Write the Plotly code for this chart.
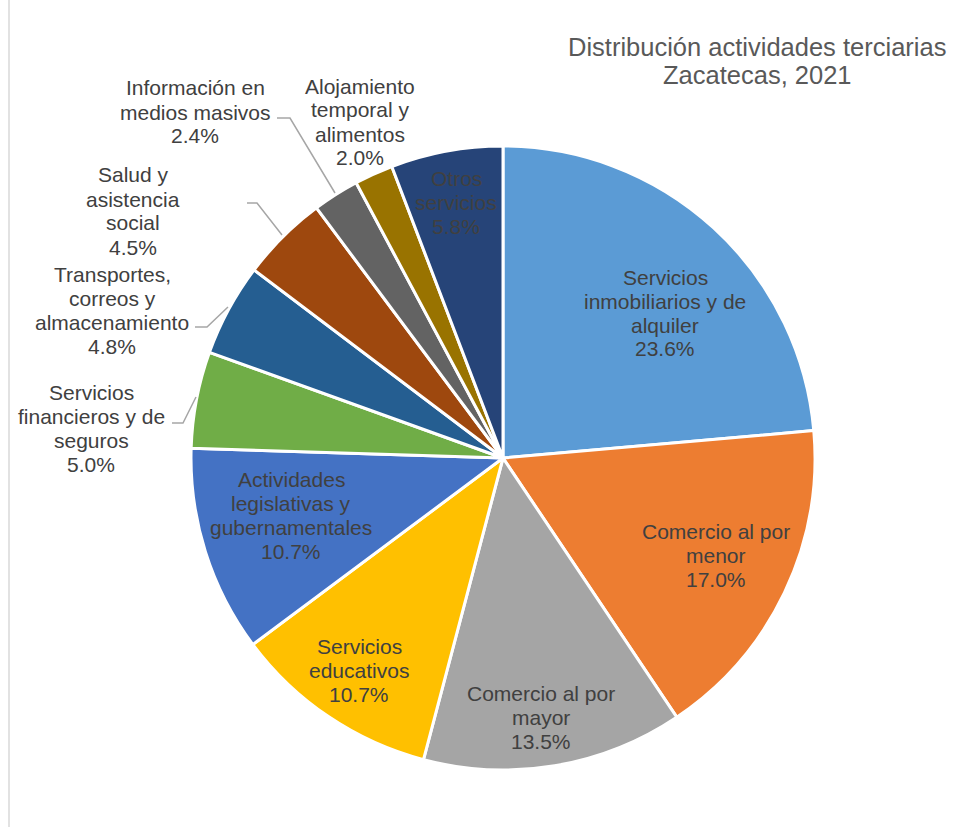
import plotly.graph_objects as go

# ---- data ----
categories = [
    "Servicios inmobiliarios y de alquiler",
    "Comercio al por menor",
    "Comercio al por mayor",
    "Servicios educativos",
    "Actividades legislativas y gubernamentales",
    "Servicios financieros y de seguros",
    "Transportes, correos y almacenamiento",
    "Salud y asistencia social",
    "Información en medios masivos",
    "Alojamiento temporal y alimentos",
    "Otros servicios",
]
label_lines = [
    ["Servicios", "inmobiliarios y de", "alquiler"],
    ["Comercio al por", "menor"],
    ["Comercio al por", "mayor"],
    ["Servicios", "educativos"],
    ["Actividades", "legislativas y", "gubernamentales"],
    ["Servicios", "financieros y de", "seguros"],
    ["Transportes,", "correos y", "almacenamiento"],
    ["Salud y", "asistencia", "social"],
    ["Información en", "medios masivos"],
    ["Alojamiento", "temporal y", "alimentos"],
    ["Otros", "servicios"],
]
values = [23.6, 17.0, 13.5, 10.7, 10.7, 5.0, 4.8, 4.5, 2.4, 2.0, 5.8]
colors = ["#5B9BD5", "#ED7D31", "#A5A5A5", "#FFC000", "#4472C4", "#70AD47",
          "#255E91", "#9E480E", "#636363", "#997300", "#264478"]
title_lines = ["Distribución actividades terciarias", "Zacatecas, 2021"]

# ---- layout constants (pixels) ----
W, H = 970, 827
CX, CY, R = 503, 458, 312
LABEL_FONT = 21
LINE_H = 24
TEXT_COLOR = "#404040"
FONT = "Arial, Liberation Sans, sans-serif"

# label centre positions (pixels)
label_pos = [
    (665, 313), (716, 555), (541, 717), (359, 670), (291, 515),
    (91, 428), (112, 310), (133, 211), (195, 112), (360, 122), (456, 203),
]
# leader lines (pixels)
leaders = {
    5: [(172, 423), (183, 423), (196, 397)],
    6: [(195, 327), (207, 327), (228, 307)],
    7: [(247, 203), (257, 203), (282, 235)],
    8: [(277, 118), (290, 118), (335, 193)],
}

def px(x):
    return x / W

def py(y):
    return 1 - y / H

fig = go.Figure(go.Pie(
    labels=categories,
    values=values,
    sort=False,
    direction="clockwise",
    rotation=0,
    marker=dict(colors=colors, line=dict(color="white", width=3)),
    textinfo="none",
    hoverinfo="label+percent",
    domain=dict(x=[px(CX - R), px(CX + R)], y=[py(CY + R), py(CY - R)]),
    showlegend=False,
))

annotations = []
for i, lines in enumerate(label_lines):
    all_lines = lines + [f"{values[i]:.1f}%"]
    n = len(all_lines)
    x0, y0 = label_pos[i]
    for j, t in enumerate(all_lines):
        yy = y0 + (j - (n - 1) / 2) * LINE_H
        annotations.append(dict(
            x=px(x0), y=py(yy), xref="paper", yref="paper",
            text=t, showarrow=False, xanchor="center", yanchor="middle",
            font=dict(family=FONT, size=LABEL_FONT, color=TEXT_COLOR),
        ))

for j, t in enumerate(title_lines):
    annotations.append(dict(
        x=px(757), y=py(47 + j * 28), xref="paper", yref="paper",
        text=t, showarrow=False, xanchor="center", yanchor="middle",
        font=dict(family=FONT, size=25.5, color="#595959"),
    ))

shapes = []
for k, pts in leaders.items():
    path = "M " + " L ".join(f"{px(x):.5f},{py(y):.5f}" for x, y in pts)
    shapes.append(dict(type="path", path=path, xref="paper", yref="paper",
                       line=dict(color="#A6A6A6", width=1.5)))
# chart border (left edge visible)
shapes.append(dict(type="line", x0=px(9), x1=px(9), y0=0, y1=1,
                   xref="paper", yref="paper",
                   line=dict(color="#D9D9D9", width=1.5)))

fig.update_layout(
    width=W, height=H,
    margin=dict(l=0, r=0, t=0, b=0),
    paper_bgcolor="white",
    plot_bgcolor="white",
    annotations=annotations,
    shapes=shapes,
    font=dict(family=FONT),
)

fig.write_html(
    "out.html",
    config={"displayModeBar": False},
    post_script="document.body.style.margin='0';document.body.style.overflow='hidden';",
)
